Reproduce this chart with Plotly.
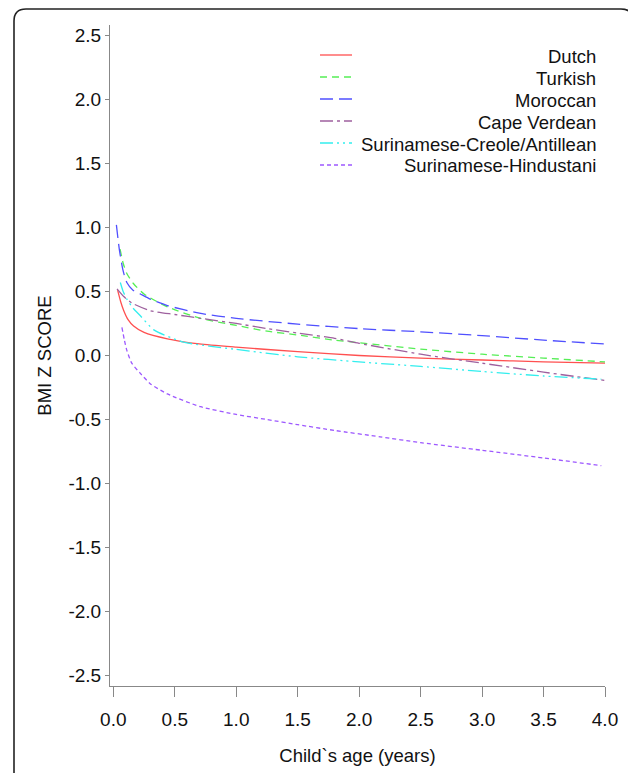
import plotly.graph_objects as go

# ---- data ----
series_names = ["Dutch", "Turkish", "Moroccan", "Cape Verdean",
                "Surinamese-Creole/Antillean", "Surinamese-Hindustani"]

dutch_age = [0.035, 0.06, 0.085, 0.12, 0.165, 0.25, 0.44, 0.7, 1.0, 1.5, 2.0, 2.5, 3.0, 3.5, 4.0]
dutch_bmi = [0.51, 0.42, 0.35, 0.28, 0.23, 0.18, 0.13, 0.09, 0.065, 0.03, 0.0, -0.02, -0.035, -0.05, -0.06]

turkish_age = [0.055, 0.08, 0.11, 0.165, 0.25, 0.44, 0.71, 1.0, 1.25, 1.5, 1.8, 2.0, 2.5, 3.0, 3.5, 4.0]
turkish_bmi = [0.83, 0.72, 0.64, 0.56, 0.48, 0.38, 0.29, 0.235, 0.19, 0.16, 0.12, 0.10, 0.05, 0.01, -0.02, -0.05]

moroccan_age = [0.025, 0.05, 0.08, 0.11, 0.16, 0.22, 0.3, 0.44, 0.7, 1.0, 1.5, 2.0, 2.5, 3.0, 3.5, 4.0]
moroccan_bmi = [1.02, 0.82, 0.66, 0.57, 0.51, 0.48, 0.44, 0.39, 0.33, 0.29, 0.245, 0.21, 0.185, 0.155, 0.12, 0.09]

capeverdean_age = [0.03, 0.085, 0.15, 0.3, 0.5, 0.71, 1.0, 1.25, 1.5, 1.8, 2.0, 2.5, 3.0, 3.5, 4.0]
capeverdean_bmi = [0.52, 0.46, 0.41, 0.35, 0.32, 0.29, 0.25, 0.21, 0.175, 0.134, 0.095, 0.01, -0.06, -0.13, -0.195]

creole_age = [0.057, 0.08, 0.11, 0.16, 0.22, 0.33, 0.57, 0.98, 1.5, 2.0, 2.5, 3.0, 3.5, 3.97]
creole_bmi = [0.57, 0.50, 0.44, 0.37, 0.31, 0.20, 0.105, 0.05, -0.01, -0.05, -0.085, -0.125, -0.16, -0.185]

hindustani_age = [0.07, 0.09, 0.11, 0.15, 0.22, 0.3, 0.44, 0.71, 1.0, 1.25, 1.5, 1.8, 2.17, 2.5, 3.0, 3.5, 3.97]
hindustani_bmi = [0.22, 0.12, 0.04, -0.06, -0.14, -0.22, -0.30, -0.40, -0.46, -0.50, -0.54, -0.585, -0.635, -0.68, -0.74, -0.80, -0.86]

x_ticks = [0.0, 0.5, 1.0, 1.5, 2.0, 2.5, 3.0, 3.5, 4.0]
y_ticks = [-2.5, -2.0, -1.5, -1.0, -0.5, 0.0, 0.5, 1.0, 1.5, 2.0, 2.5]

ages = [dutch_age, turkish_age, moroccan_age, capeverdean_age, creole_age, hindustani_age]
bmis = [dutch_bmi, turkish_bmi, moroccan_bmi, capeverdean_bmi, creole_bmi, hindustani_bmi]

# ---- styles ----
colors = ["#ff5050", "#55ee55", "#5050ff", "#9e609e", "#33eeee", "#9d58ff"]
dashes = ["solid", "7px,5px", "13px,6px", "13px,4px,3px,4px",
          "13px,4px,2px,4px,2px,4px", "4px,3px"]

# page body has an 8px margin; work in page pixels and subtract it
OFF = 8
W, H = 636 - OFF, 773 - OFF
PL, PR, PT, PB = 110, 605, 25, 686          # plot area in page pixels
ML, MR, MT, MB = PL - OFF, W - (PR - OFF), PT - OFF, H - (PB - OFF)
PW, PH = W - ML - MR, H - MT - MB

def px_x(px):
    return (px - OFF - ML) / PW

def px_y(py):
    return (H - MB - (py - OFF)) / PH

FONT = "Liberation Sans, Arial, sans-serif"

fig = go.Figure()
for name, a, b, c, d in zip(series_names, ages, bmis, colors, dashes):
    fig.add_trace(go.Scatter(x=a, y=b, mode="lines", name=name,
                             line=dict(color=c, width=1.3, dash=d, shape="spline", smoothing=0.6),
                             showlegend=False))

shapes = []
annotations = []
# manual legend
for i, (name, c, d) in enumerate(zip(series_names, colors, dashes)):
    yrow = 55 + 22 * i
    shapes.append(dict(type="line", xref="paper", yref="paper",
                       x0=px_x(320), x1=px_x(352), y0=px_y(yrow), y1=px_y(yrow),
                       line=dict(color=c, width=1.3, dash=d)))
    annotations.append(dict(xref="paper", yref="paper", x=px_x(598), y=px_y(yrow + 1),
                            text=name, showarrow=False, xanchor="right", yanchor="middle",
                            font=dict(family=FONT, size=18.5, color="#111")))

# rounded frame
x0, x1 = px_x(14), px_x(633)
y1, y0 = px_y(9), px_y(800)
rx, ry = 12 / PW, 12 / PH
path = (f"M {x0},{y0} L {x0},{y1-ry} Q {x0},{y1} {x0+rx},{y1} "
        f"L {x1-rx},{y1} Q {x1},{y1} {x1},{y1-ry} L {x1},{y0}")
shapes.append(dict(type="path", xref="paper", yref="paper", path=path,
                   line=dict(color="#222", width=1.6)))

fig.update_layout(
    width=W, height=H,
    margin=dict(l=ML, r=MR, t=MT, b=MB, autoexpand=False),
    paper_bgcolor="white", plot_bgcolor="white",
    shapes=shapes, annotations=annotations,
    font=dict(family=FONT, size=19, color="#111"),
    xaxis=dict(range=[-0.027, 4.0], tickvals=x_ticks,
               ticktext=[f"{v:.1f}" for v in x_ticks],
               showgrid=False, zeroline=False, showline=True, linecolor="#888",
               linewidth=1, ticks="outside", ticklen=10, tickcolor="#888",
               tickfont=dict(size=19), ticklabelstandoff=6, automargin=False,
               title=dict(text="Child`s age (years)", font=dict(size=18.5), standoff=20)),
    yaxis=dict(range=[-2.58, 2.58], tickvals=y_ticks,
               ticktext=[f"{v:.1f}" for v in y_ticks],
               showgrid=False, zeroline=False, showline=True, linecolor="#888",
               linewidth=1, ticks="outside", ticklen=4, tickcolor="#888",
               tickfont=dict(size=19), automargin=False,
               title=dict(text="BMI Z SCORE", font=dict(size=18.5), standoff=11)),
)

fig.write_html("out.html")
